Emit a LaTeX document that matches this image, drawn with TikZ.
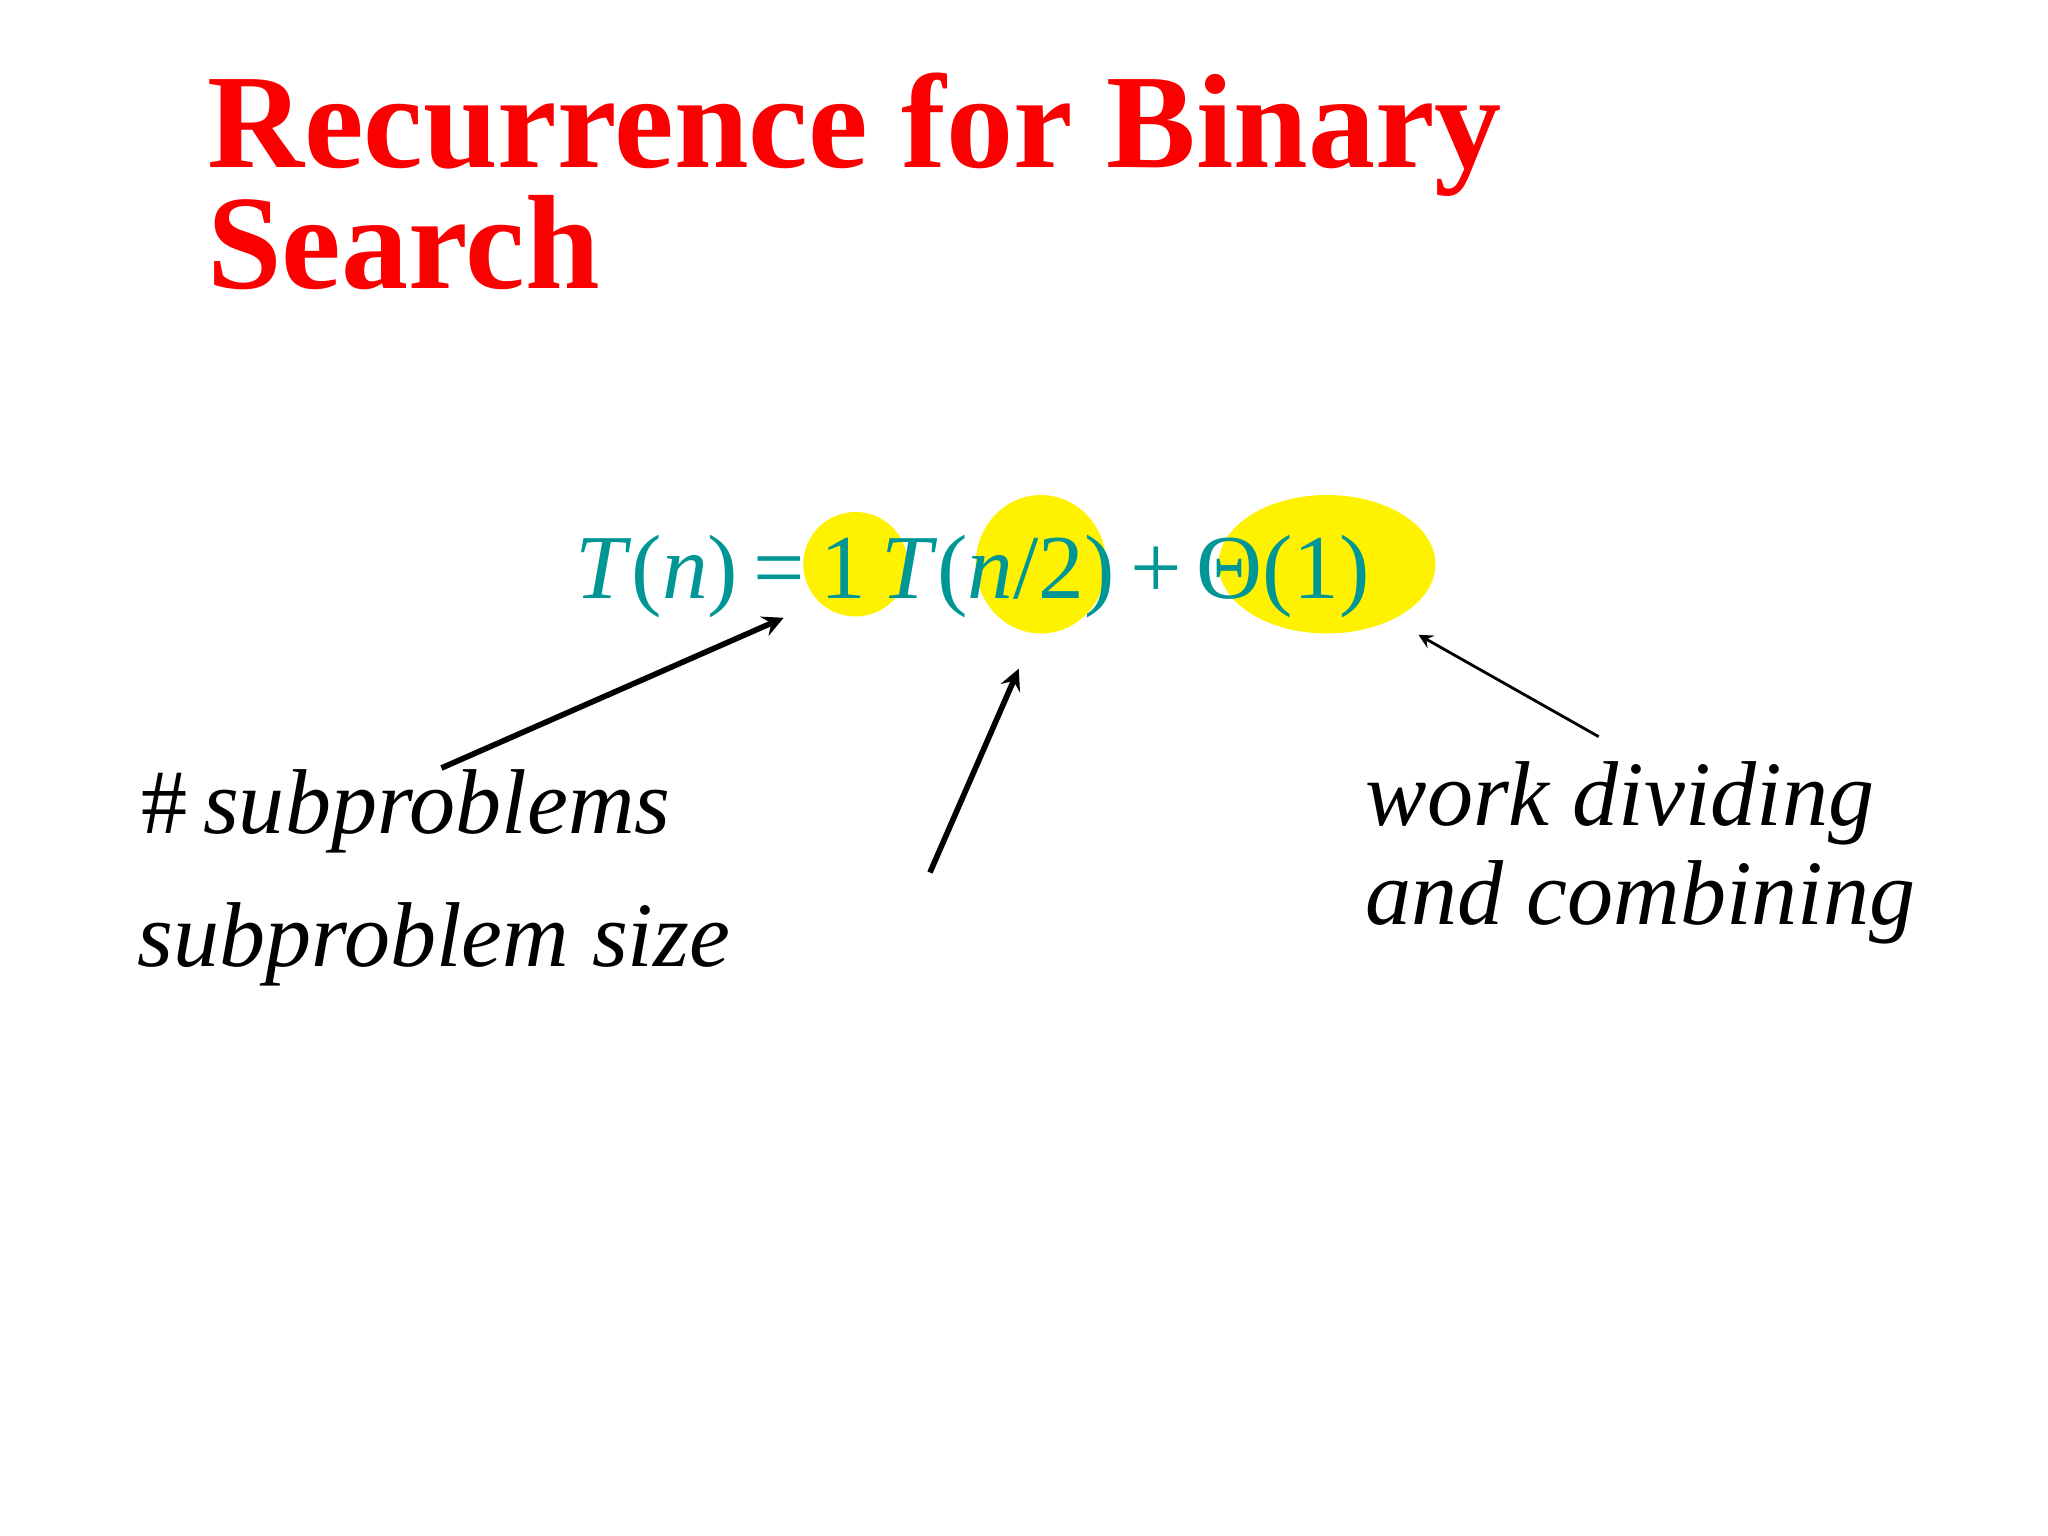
\documentclass[tikz,border=0pt]{standalone}
\usepackage{fontspec}
\setmainfont{Liberation Serif}
\definecolor{teal2}{RGB}{0,150,150}
\definecolor{titlered}{RGB}{250,0,0}
\begin{document}
\begin{tikzpicture}[x=0.013061cm,y=-0.013061cm,
  hl/.style={fill=yellow,draw=none},
  lbl/.style={anchor=base west,inner sep=0pt,font=\fontsize{26.2}{30}\selectfont\itshape},
  arr/.style={-stealth,line width=1.6pt},
  arrthin/.style={-stealth,line width=0.8pt}]
\useasboundingbox (0,0) rectangle (1568,1176);
\fill[white] (0,0) rectangle (1568,1176);
\node[anchor=base west,inner sep=0pt,text=titlered,font=\fontsize{38.2}{44}\selectfont\bfseries] (t1) at (158,128) {Recurrence for Binary};
\node[anchor=base west,inner sep=0pt,text=titlered,font=\fontsize{38.2}{44}\selectfont\bfseries] (t2) at (158,221) {Search};
\fill[hl] (655,432) ellipse [x radius=40, y radius=40];
\fill[hl] (797,432) ellipse [x radius=50, y radius=53];
\fill[hl] (1016,432) ellipse [x radius=83, y radius=53];
\node[anchor=base west,inner sep=0pt,text=teal2,font=\fontsize{26}{30}\selectfont] (eq) at (440,458) {\textit{T}(\textit{n})\,=\,1\,\textit{T}(\textit{n}/2)\,+\,Θ(1)};
\node[lbl] (l1) at (108,638) {\upshape\#\,\itshape subproblems};
\node[lbl] (l2) at (105,740) {subproblem size};
\node[lbl] (l3) at (1045,632) {work dividing};
\node[lbl] (l4) at (1045,708) {and combining};
\coordinate (a1s) at (338,588); \coordinate (a1e) at (600,473);
\coordinate (a2s) at (712,668); \coordinate (a2e) at (780,512);
\coordinate (a3s) at (1224,564); \coordinate (a3e) at (1086,486);
\draw[arr] (a1s) -- (a1e);
\draw[arr] (a2s) -- (a2e);
\draw[arrthin] (a3s) -- (a3e);
\end{tikzpicture}
\end{document}
